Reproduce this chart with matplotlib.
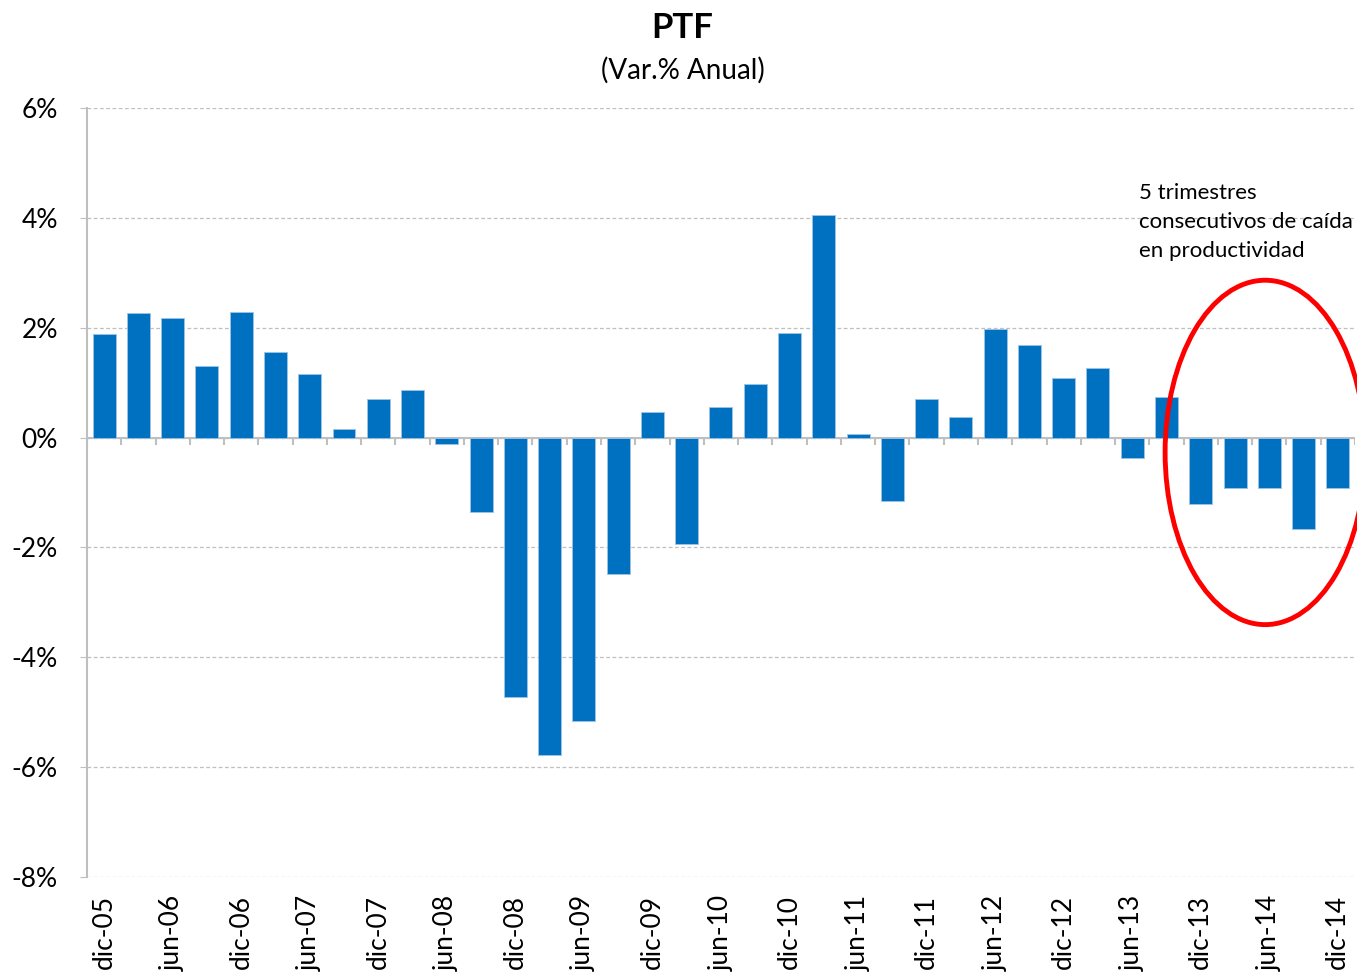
import numpy as np
import matplotlib.pyplot as plt
from matplotlib.patches import Ellipse

plt.rcParams['font.family'] = ['Lato', 'DejaVu Sans']

# Quarterly PTF growth (annual % change), dic-05 .. dic-14
quarters = ["dic-05", "mar-06", "jun-06", "sep-06",
            "dic-06", "mar-07", "jun-07", "sep-07",
            "dic-07", "mar-08", "jun-08", "sep-08",
            "dic-08", "mar-09", "jun-09", "sep-09",
            "dic-09", "mar-10", "jun-10", "sep-10",
            "dic-10", "mar-11", "jun-11", "sep-11",
            "dic-11", "mar-12", "jun-12", "sep-12",
            "dic-12", "mar-13", "jun-13", "sep-13",
            "dic-13", "mar-14", "jun-14", "sep-14",
            "dic-14"]
ptf = [1.89, 2.27, 2.18, 1.31,
       2.29, 1.56, 1.15, 0.16,
       0.71, 0.87, -0.11, -1.35,
       -4.73, -5.78, -5.16, -2.49,
       0.47, -1.93, 0.55, 0.98,
       1.91, 4.05, 0.07, -1.15,
       0.71, 0.38, 1.98, 1.69,
       1.09, 1.27, -0.38, 0.73,
       -1.20, -0.91, -0.91, -1.67,
       -0.91]
yticks = [6, 4, 2, 0, -2, -4, -6, -8]

x = np.arange(len(quarters))

fig = plt.figure(figsize=(13.57, 9.75), dpi=100)
ax = fig.add_axes([0.0641, 0.1005, 0.9344, 0.7887])

ax.bar(x, ptf, width=0.67, color="#0070C0", edgecolor="#9DC3E6", linewidth=0.6, zorder=3)

ax.set_xlim(-0.5, len(quarters) - 0.5)
ax.set_ylim(-8, 6)
ax.set_yticks(yticks)
ax.set_yticklabels([f"{v}%" for v in yticks], fontsize=19)
ax.yaxis.grid(True, linestyle=(0, (3, 2)), color="#BFBFBF", linewidth=0.9)
ax.set_axisbelow(True)

ax.set_xticks(x[::2])
ax.set_xticklabels(quarters[::2], rotation=90, fontsize=19)
ax.tick_params(axis="x", length=0, pad=13)
ax.tick_params(axis="y", length=5, color="#BFBFBF", pad=16)

for s in ["top", "right", "bottom"]:
    ax.spines[s].set_visible(False)
ax.spines["left"].set_color("#BFBFBF")
ax.spines["left"].set_linewidth(1.5)

# category axis at zero with tick marks between quarters
ax.axhline(0, color="#BFBFBF", linewidth=1.5, zorder=2)
ax.vlines(np.arange(len(quarters) + 1) - 0.5, -0.13, 0, color="#BFBFBF", linewidth=1.5, zorder=2)

fig.text(0.503, 0.971, "PTF", ha="center", va="center", fontsize=25, fontweight="bold")
fig.text(0.503, 0.928, "(Var.% Anual)", ha="center", va="center", fontsize=20)

fig.text(0.8393, 0.812, "5 trimestres\nconsecutivos de caída\nen productividad",
         ha="left", va="top", fontsize=16, linespacing=1.55)

ell = Ellipse((33.88, -0.27), 5.84, 6.27, fill=False, edgecolor="#FF0000", linewidth=3.5,
              clip_on=False, zorder=4)
ax.add_patch(ell)

fig.savefig("out.png", dpi=100)
